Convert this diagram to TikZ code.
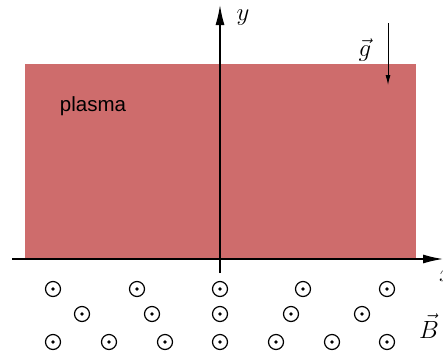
\documentclass[tikz,border=0pt]{standalone}
\usepackage{amsmath}
\usepackage{fontspec}
\usepackage{tikz}
\usetikzlibrary{arrows.meta}
\newfontfamily\labelfont{Liberation Sans}
\definecolor{plasmaR}{RGB}{206,108,108}

\begin{document}
\begin{tikzpicture}[x=1pt, y=-1pt, font=\fontsize{28}{32}\selectfont,
  bdot/.style={circle, draw, line width=1.2pt, inner sep=0pt, minimum size=15pt,
               path picture={\fill (path picture bounding box.center) circle (1.8pt);}}]
  \useasboundingbox (0,0) rectangle (443,356);
  % plasma slab
  \fill[plasmaR] (25,64) rectangle (416,259);
  \node[font=\labelfont\fontsize{20.5}{24}\selectfont] (lbl) at (93,106) {plasma};
  % axes
  \coordinate (xl) at (12,259);
  \coordinate (xr) at (443,259);
  \coordinate (yb) at (220,273);
  \coordinate (yt) at (220,5);
  \draw[line width=1.4pt, -{Latex[length=20pt, width=9pt]}] (xl) -- (xr);
  \draw[line width=1.4pt, -{Latex[length=20pt, width=9pt]}] (yb) -- (yt);
  \node (xlab) at (446,276) {$x$};
  \node (ylab) at (243,18) {$y$};
  % gravity
  \coordinate (g1) at (388,23);
  \coordinate (g2) at (388,85);
  \draw[line width=0.9pt, -{Latex[length=10pt, width=5pt]}] (g1) -- (g2);
  \node (glab) at (365,50) {$\vec{g}$};
  % magnetic field out of the page
  \foreach \px in {53,137,220,303,387} \node[bdot] at (\px,289) {};
  \foreach \px in {82,152,220,291,362} \node[bdot] at (\px,314) {};
  \foreach \px in {53,109,165,220,276,332,387} \node[bdot] at (\px,342) {};
  \node (blab) at (429,326) {$\vec{B}$};
\end{tikzpicture}
\end{document}
